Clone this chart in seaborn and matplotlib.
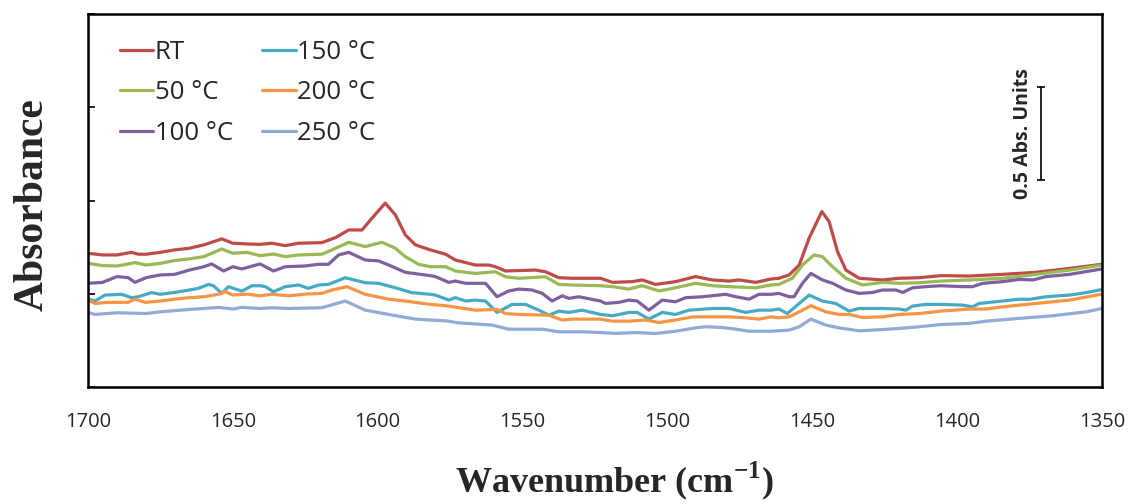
import numpy as np
import pandas as pd
import matplotlib
matplotlib.use("Agg")
import matplotlib.pyplot as plt
import seaborn as sns
from matplotlib.lines import Line2D

# ---------------- data (wavenumber in cm-1, absorbance) ----------------
rt_w = [1700.0, 1695.0, 1690.0, 1685.0, 1682.6, 1680.0, 1675.0, 1670.1, 1665.0, 1660.0, 1653.8, 1650.0, 1645.1, 1640.6,
        1636.5, 1631.9, 1627.3, 1619.3, 1614.6, 1610.0, 1605.4, 1602.0, 1597.4, 1593.9, 1590.5, 1587.0, 1581.8,
        1576.6, 1573.2, 1566.3, 1561.7, 1559.4, 1555.9, 1545.5, 1542.1, 1537.5, 1532.9, 1523.1,
        1519.0, 1512.1, 1508.7, 1504.1, 1497.2, 1490.3, 1484.5, 1478.7, 1475.3, 1469.5, 1464.3,
        1461.5, 1458.0, 1454.5, 1451.1, 1446.7, 1444.2, 1441.3, 1438.4, 1433.8, 1425.8, 1420.0, 1413.1, 1405.6,
        1395.8, 1384.3, 1372.8, 1361.2, 1350.0]
rt_a = [0.717, 0.708, 0.708, 0.722, 0.712, 0.712, 0.722, 0.735, 0.744, 0.762, 0.794, 0.771, 0.767, 0.765,
        0.771, 0.758, 0.771, 0.774, 0.801, 0.842, 0.842, 0.905, 0.986, 0.923, 0.816, 0.762, 0.735,
        0.712, 0.681, 0.654, 0.654, 0.645, 0.622, 0.627, 0.618, 0.586, 0.583, 0.583,
        0.561, 0.565, 0.574, 0.550, 0.565, 0.592, 0.574, 0.568, 0.574, 0.561, 0.579,
        0.583, 0.601, 0.654, 0.798, 0.941, 0.887, 0.726, 0.627, 0.583, 0.574, 0.583, 0.586, 0.597,
        0.595, 0.604, 0.615, 0.636, 0.658]

c50_w = [1700.0, 1695.0, 1690.0, 1685.0, 1683.8, 1680.0, 1675.0, 1670.1, 1665.0, 1660.0, 1653.8, 1650.0, 1645.1, 1640.6,
         1636.0, 1631.9, 1627.3, 1619.3, 1615.8, 1610.0, 1604.3, 1598.5, 1593.9, 1590.5, 1585.9, 1581.8,
         1576.6, 1573.2, 1566.3, 1559.4, 1555.9, 1551.3, 1542.1, 1537.5, 1532.9, 1523.1,
         1519.0, 1513.3, 1508.7, 1502.9, 1497.2, 1490.3, 1484.5, 1478.7, 1469.5, 1464.3,
         1461.5, 1456.9, 1453.4, 1449.4, 1446.5, 1443.0, 1438.4, 1432.7, 1425.8, 1420.0, 1413.1, 1405.6,
         1395.8, 1384.3, 1372.8, 1361.2, 1350.0]
c50_a = [0.663, 0.651, 0.649, 0.663, 0.667, 0.654, 0.663, 0.678, 0.687, 0.699, 0.740, 0.717, 0.722, 0.704,
         0.713, 0.699, 0.708, 0.712, 0.735, 0.776, 0.753, 0.776, 0.744, 0.699, 0.658, 0.645,
         0.645, 0.622, 0.609, 0.618, 0.591, 0.583, 0.591, 0.550, 0.547, 0.543,
         0.538, 0.525, 0.543, 0.515, 0.532, 0.556, 0.543, 0.538, 0.532, 0.547,
         0.550, 0.583, 0.654, 0.708, 0.699, 0.645, 0.583, 0.547, 0.561, 0.556, 0.559, 0.568,
         0.574, 0.583, 0.604, 0.627, 0.654]

c100_w = [1700.0, 1695.0, 1690.0, 1686.1, 1683.8, 1680.0, 1675.0, 1670.1, 1665.0, 1660.0, 1657.3, 1653.2, 1650.0, 1646.9, 1640.6,
          1636.0, 1631.9, 1625.0, 1620.4, 1617.0, 1613.5, 1610.0, 1604.3, 1599.7, 1596.2, 1590.5, 1581.8,
          1580.1, 1575.5, 1573.2, 1569.7, 1562.8, 1558.8, 1554.8, 1551.3, 1546.7, 1543.2, 1539.8, 1536.3, 1534.0, 1530.6, 1523.1,
          1521.4, 1516.7, 1513.3, 1510.4, 1506.4, 1501.8, 1497.2, 1493.7, 1487.9, 1479.9, 1476.4, 1471.8, 1468.4, 1464.3,
          1461.5, 1458.0, 1456.3, 1453.4, 1450.5, 1446.5, 1443.0, 1438.4, 1433.8, 1429.2, 1425.8, 1421.1, 1418.8, 1415.4, 1410.8, 1405.6,
          1398.1, 1394.7, 1391.2, 1384.3, 1378.5, 1373.9, 1369.3, 1361.2, 1350.0]
c100_a = [0.556, 0.561, 0.592, 0.586, 0.561, 0.586, 0.601, 0.604, 0.627, 0.645, 0.660, 0.622, 0.645, 0.633, 0.660,
          0.622, 0.645, 0.649, 0.658, 0.658, 0.708, 0.722, 0.681, 0.676, 0.654, 0.615, 0.597,
          0.592, 0.561, 0.568, 0.556, 0.556, 0.484, 0.515, 0.525, 0.520, 0.502, 0.461, 0.489, 0.475, 0.484, 0.461,
          0.448, 0.454, 0.466, 0.461, 0.412, 0.466, 0.457, 0.479, 0.484, 0.497, 0.484, 0.471, 0.497, 0.497,
          0.502, 0.484, 0.484, 0.556, 0.609, 0.574, 0.556, 0.520, 0.502, 0.507, 0.520, 0.520, 0.507, 0.532, 0.538, 0.543,
          0.538, 0.538, 0.556, 0.565, 0.577, 0.574, 0.592, 0.604, 0.633]

c150_w = [1700.0, 1697.6, 1694.1, 1688.4, 1685.0, 1682.6, 1678.0, 1675.0, 1670.1, 1665.0, 1661.9, 1658.4, 1656.7, 1653.8, 1651.5, 1646.9, 1643.4, 1640.6,
          1638.8, 1636.0, 1631.9, 1627.3, 1623.9, 1620.4, 1617.0, 1611.2, 1604.3, 1599.7, 1593.9, 1588.2, 1581.8,
          1580.1, 1575.5, 1573.2, 1569.7, 1566.3, 1562.8, 1558.8, 1553.6, 1549.0, 1544.4, 1540.9, 1537.5, 1534.0, 1529.4, 1523.1,
          1519.0, 1513.3, 1510.4, 1506.4, 1501.8, 1497.2, 1492.6, 1484.5, 1478.7, 1473.0, 1468.4, 1464.3,
          1461.5, 1458.6, 1454.5, 1451.1, 1446.5, 1441.9, 1437.3, 1433.8, 1425.8, 1420.0, 1417.7, 1415.4, 1410.8, 1405.6,
          1398.1, 1394.7, 1392.4, 1384.3, 1378.5, 1375.1, 1369.3, 1361.2, 1355.5, 1350.0]
c150_a = [0.471, 0.461, 0.493, 0.497, 0.479, 0.484, 0.506, 0.497, 0.507, 0.520, 0.529, 0.550, 0.543, 0.502, 0.538, 0.514, 0.543, 0.543,
          0.538, 0.511, 0.538, 0.547, 0.529, 0.547, 0.550, 0.586, 0.559, 0.556, 0.532, 0.506, 0.497,
          0.493, 0.466, 0.479, 0.461, 0.466, 0.461, 0.400, 0.443, 0.443, 0.412, 0.385, 0.407, 0.400, 0.412, 0.389,
          0.382, 0.400, 0.400, 0.364, 0.400, 0.389, 0.412, 0.421, 0.421, 0.400, 0.412, 0.412,
          0.418, 0.394, 0.448, 0.493, 0.461, 0.448, 0.407, 0.421, 0.421, 0.418, 0.412, 0.434, 0.443, 0.443,
          0.439, 0.430, 0.448, 0.461, 0.471, 0.470, 0.484, 0.493, 0.506, 0.523]

c200_w = [1700.0, 1697.6, 1693.0, 1686.1, 1683.8, 1680.3, 1675.0, 1670.1, 1665.0, 1660.0, 1654.9, 1652.6, 1650.0, 1645.1, 1640.6,
          1636.5, 1630.8, 1625.0, 1619.3, 1615.8, 1610.6, 1604.3, 1596.2, 1590.5, 1581.8,
          1576.6, 1566.3, 1558.8, 1555.9, 1551.3, 1540.9, 1536.3, 1532.9, 1523.1,
          1519.0, 1513.3, 1507.5, 1502.9, 1497.2, 1491.4, 1478.7, 1473.0, 1468.4, 1464.3,
          1461.5, 1458.0, 1454.5, 1450.5, 1445.3, 1440.7, 1437.3, 1432.7, 1425.8, 1420.0, 1413.1, 1405.6,
          1395.8, 1390.0, 1384.3, 1372.8, 1361.2, 1350.0]
c200_a = [0.466, 0.448, 0.454, 0.454, 0.471, 0.454, 0.461, 0.471, 0.479, 0.484, 0.497, 0.511, 0.493, 0.498, 0.489,
          0.497, 0.489, 0.498, 0.502, 0.520, 0.538, 0.497, 0.471, 0.461, 0.443,
          0.436, 0.412, 0.416, 0.394, 0.389, 0.385, 0.359, 0.364, 0.364,
          0.353, 0.353, 0.359, 0.346, 0.359, 0.376, 0.376, 0.371, 0.364, 0.376,
          0.371, 0.376, 0.403, 0.436, 0.403, 0.389, 0.389, 0.373, 0.376, 0.389, 0.394, 0.407,
          0.418, 0.418, 0.430, 0.448, 0.466, 0.498]

c250_w = [1700.0, 1697.6, 1690.0, 1680.0, 1675.0, 1665.0, 1660.0, 1654.9, 1650.0, 1646.9, 1640.6,
          1636.5, 1630.8, 1619.3, 1611.2, 1604.3, 1596.2, 1587.0, 1581.8,
          1576.6, 1572.0, 1560.5, 1554.8, 1549.0, 1543.2, 1537.5, 1529.4, 1523.1,
          1517.9, 1511.0, 1504.1, 1497.2, 1490.3, 1486.8, 1481.0, 1476.4, 1471.8, 1464.3,
          1458.0, 1454.5, 1450.5, 1445.3, 1440.7, 1433.8, 1425.8, 1420.0, 1413.1, 1405.6,
          1395.8, 1390.0, 1378.5, 1367.0, 1355.5, 1350.0]
c250_a = [0.400, 0.389, 0.398, 0.394, 0.403, 0.416, 0.421, 0.427, 0.418, 0.427, 0.421,
          0.425, 0.421, 0.425, 0.461, 0.412, 0.389, 0.364, 0.359,
          0.355, 0.344, 0.332, 0.310, 0.310, 0.310, 0.296, 0.296, 0.292,
          0.287, 0.292, 0.287, 0.299, 0.317, 0.323, 0.319, 0.310, 0.299, 0.299,
          0.305, 0.323, 0.364, 0.332, 0.317, 0.301, 0.308, 0.314, 0.323, 0.335,
          0.341, 0.353, 0.368, 0.382, 0.403, 0.421]

series_labels = ["RT", "50 \u00b0C", "100 \u00b0C", "150 \u00b0C", "200 \u00b0C", "250 \u00b0C"]
series_colors = ["#BE4B48", "#98B954", "#7D60A0", "#46AAC5", "#F69545", "#91AAD6"]

x_ticks = [1700, 1650, 1600, 1550, 1500, 1450, 1400, 1350]
y_ticks = [0.0, 0.5, 1.0, 1.5, 2.0]

scale_label = "0.5 Abs. Units"
scale_x = 1371.0
scale_bottom = 1.11
scale_len = 0.5

# ---------------- build long table ----------------
ws = [rt_w, c50_w, c100_w, c150_w, c200_w, c250_w]
As = [rt_a, c50_a, c100_a, c150_a, c200_a, c250_a]
frames = []
for lab, w, a in zip(series_labels, ws, As):
    frames.append(pd.DataFrame({"wavenumber": w, "absorbance": a, "sample": lab}))
df = pd.concat(frames, ignore_index=True)

sns.set_style("white")
plt.rcParams["font.family"] = ["Open Sans", "DejaVu Sans"]
plt.rcParams["mathtext.fontset"] = "custom"
plt.rcParams["mathtext.rm"] = "Liberation Serif"
plt.rcParams["mathtext.bf"] = "Liberation Serif:bold"

W, H = 1131, 504
fig = plt.figure(figsize=(W / 100, H / 100), dpi=100)
ax = fig.add_axes([88 / W, 1 - 387 / H, (1102 - 88) / W, (387 - 14) / H])

sns.lineplot(data=df, x="wavenumber", y="absorbance", hue="sample",
             palette=dict(zip(series_labels, series_colors)), hue_order=series_labels,
             estimator=None, sort=False, linewidth=2.3, ax=ax, legend=False)

ax.set_xlim(1700, 1350)
ax.set_ylim(0, 2)
ax.set_xticks(x_ticks)
ax.set_xticklabels([str(t) for t in x_ticks], fontsize=14.5)
ax.set_yticks(y_ticks)
ax.set_yticklabels([])
ax.tick_params(axis="x", direction="out", length=7, width=1.2, pad=11, color="black")
ax.tick_params(axis="y", direction="in", length=5, width=1.2, color="black", left=True)
for sp in ax.spines.values():
    sp.set_color("black")
    sp.set_linewidth(1.8)
    sp.set_visible(True)

ax.set_xlabel(r"Wavenumber (cm$^{\mathbf{-1}}$)", fontsize=26, fontweight="bold",
              family="Liberation Serif")
ax.set_ylabel("Absorbance", fontsize=30, fontweight="bold", family="Liberation Serif")
ax.xaxis.set_label_coords((614 - 88) / 1014, (387 - 459) / 373)
ax.yaxis.set_label_coords((52 - 88) / 1014, (387 - 205) / 373)

# legend
handles = [Line2D([], [], color=c, lw=2.3) for c in series_colors]
ax.legend(handles, series_labels, ncol=2, loc="upper left",
          bbox_to_anchor=((120 - 88) / 1014, (387 - 40) / 373),
          frameon=False, fontsize=18.5, handlelength=1.3, handletextpad=0.05,
          labelspacing=0.6, columnspacing=1.14, borderpad=0, borderaxespad=0)

# scale bar
ax.errorbar([scale_x], [scale_bottom + scale_len / 2], yerr=[[scale_len / 2], [scale_len / 2]],
            fmt="none", ecolor="black", elinewidth=1.2, capsize=3, capthick=1.2)
ax.text(scale_x + 6.3, scale_bottom + scale_len / 2, scale_label, rotation=90,
        ha="center", va="center", fontsize=14, fontweight="bold")

fig.savefig("out.png", dpi=100)
